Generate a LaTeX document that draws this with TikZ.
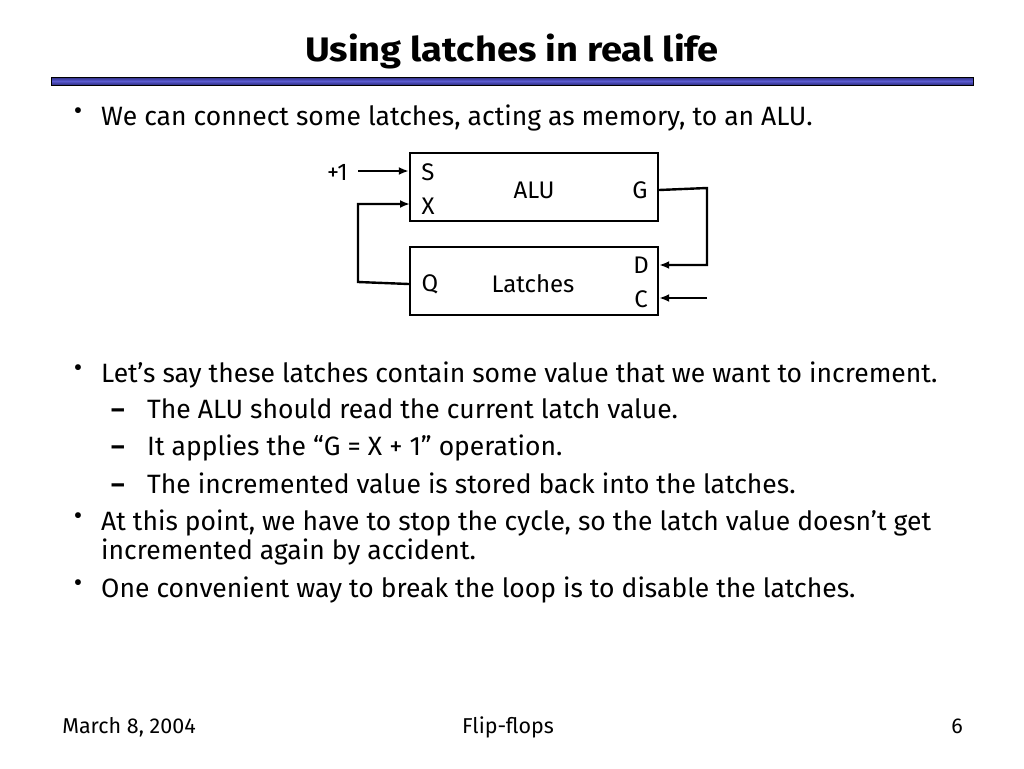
\documentclass[tikz,border=0pt]{standalone}
\usepackage{fontspec}
\setmainfont{Fira Sans}
\usetikzlibrary{arrows.meta}
\definecolor{barblue}{HTML}{5B5BD0}
\definecolor{bardark}{HTML}{2B2B80}
\tikzset{
  txt/.style={anchor=base west, inner sep=0pt, font=\fontsize{26.5}{30}\selectfont},
  lbl/.style={inner sep=0pt, font=\fontsize{24}{28}\selectfont},
  blk/.style={draw, line width=2.4pt, minimum width=248pt, minimum height=68pt, inner sep=0pt},
  arr/.style={line width=2.4pt, -{Latex[length=10pt,width=8pt]}},
  bul/.style={inner sep=0pt, font=\fontsize{26}{26}\selectfont},
  dsh/.style={anchor=base, inner sep=0pt, font=\fontsize{26}{30}\selectfont\bfseries},
  foot/.style={anchor=base, inner sep=0pt, font=\fontsize{21.5}{24}\selectfont}
}
\begin{document}
\begin{tikzpicture}[x=1pt,y=-1pt]
\useasboundingbox[fill=white] (0,0) rectangle (1024,768);
% title
\node[anchor=base, inner sep=0pt, font=\fontsize{34}{38}\selectfont\bfseries\addfontfeatures{FakeStretch=1.12}] (title) at (512,62) {Using latches in real life};
\shade[top color=bardark, bottom color=bardark, middle color=barblue, draw=black, line width=0.8pt] (51,77) rectangle (973,85);
% bullets
\node[bul] (b1) at (78,114) {•};
\node[txt] (t1) at (101,125) {We can connect some latches, acting as memory, to an ALU.};
\node[bul] (b2) at (78,371) {•};
\node[txt] (t2) at (101,382) {Let’s say these latches contain some value that we want to increment.};
\node[dsh] (d1) at (118,418) {–};
\node[txt] (t3) at (147,418) {The ALU should read the current latch value.};
\node[dsh] (d2) at (118,455) {–};
\node[txt] (t4) at (147,455) {It applies the “G = X + 1” operation.};
\node[dsh] (d3) at (118,493) {–};
\node[txt] (t5) at (147,493) {The incremented value is stored back into the latches.};
\node[bul] (b3) at (78,519) {•};
\node[txt] (t6) at (101,530) {At this point, we have to stop the cycle, so the latch value doesn’t get};
\node[txt] (t7) at (101,559) {incremented again by accident.};
\node[bul] (b4) at (78,586) {•};
\node[txt] (t8) at (101,597) {One convenient way to break the loop is to disable the latches.};
% footer
\node[foot] (f1) at (129,733) {March 8, 2004};
\node[foot] (f2) at (508,733) {Flip-flops};
\node[foot] (f3) at (957,733) {6};
% diagram
\node[blk] (alu) at (534,187) {};
\node[blk] (lat) at (534,281) {};
\node[lbl] (s) at (428,172) {S};
\node[lbl] (x) at (428,206) {X};
\node[lbl] (alutxt) at (534,190) {ALU};
\node[lbl] (g) at (640,190) {G};
\node[lbl] (d) at (641,265) {D};
\node[lbl] (q) at (430,284) {Q};
\node[lbl] (lattxt) at (533,284) {Latches};
\node[lbl] (c) at (641,299) {C};
\node[lbl, anchor=east] (plus) at (348,172) {+1};
\coordinate (pin) at (358,171);
\coordinate (xin) at (410,204);
\coordinate (cin) at (707,298);
\draw[arr] (pin) -- (pin -| alu.west);
\draw[arr] (lat.west |- q) -- (358,282) |- (xin);
\draw[arr] (alu.east |- g) -- (707,188) |- (lat.east |- d);
\draw[arr] (cin) -- (cin -| lat.east);
\end{tikzpicture}
\end{document}
